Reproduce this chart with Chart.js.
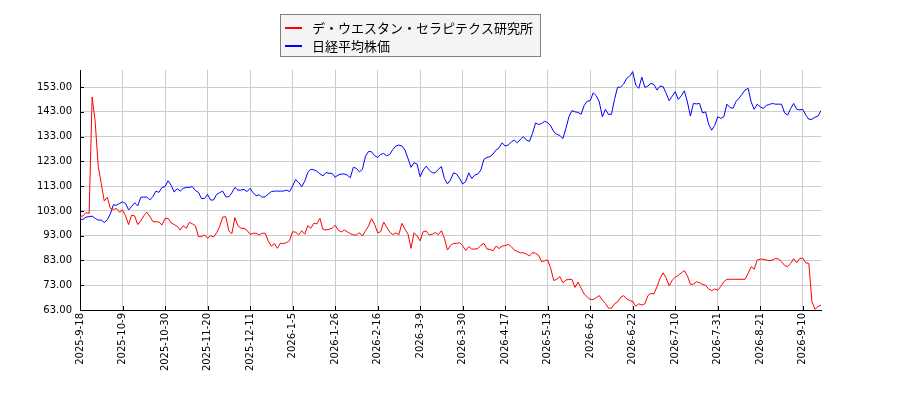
<!DOCTYPE html>
<html>
<head>
<meta charset="utf-8">
<script src="https://cdn.jsdelivr.net/npm/chart.js@4/dist/chart.umd.min.js"></script>
<style>
    html, body { margin: 0; padding: 0; background: #ffffff; }
    #wrap { width: 900px; height: 400px; position: relative; }
</style>
</head>
<body>
<div id="wrap"><canvas id="compareChart"></canvas></div>
<script>

// Both series are rebased to 100 on the first trading day.
var seriesNames = ['デ・ウエスタン・セラピテクス研究所', '日経平均株価'];

var companyValues = [
    100.7, 101.0, 102.3, 102.0, 149.0, 139.0, 121.0, 114.0, 107.0, 108.5, 104.0, 103.6, 104.0, 102.5,
    103.4, 101.0, 97.5, 101.3, 101.0, 97.5, 99.0, 101.0, 102.5, 100.7, 98.7, 98.6, 98.5, 97.3,
    100.0, 100.0, 98.2, 97.5, 96.8, 95.3, 97.0, 96.0, 98.4, 97.8, 97.0, 92.6, 92.6, 93.3,
    92.0, 93.0, 92.5, 94.2, 96.8, 100.5, 100.7, 95.0, 93.8, 100.3, 97.0, 96.0, 96.0, 95.2,
    93.5, 94.0, 94.0, 93.3, 94.0, 94.0, 90.8, 88.8, 89.8, 87.9, 90.0, 89.8, 90.2, 91.0,
    94.6, 94.4, 93.3, 95.0, 93.6, 97.0, 96.0, 98.0, 97.8, 100.0, 95.5, 95.3, 95.6, 96.0,
    97.2, 95.3, 94.5, 95.3, 94.6, 93.8, 93.3, 93.3, 94.2, 92.9, 95.0, 96.9, 99.9, 97.6,
    94.2, 94.6, 98.5, 96.4, 94.5, 93.4, 94.1, 93.4, 98.0, 95.6, 93.7, 87.9, 94.2, 92.9,
    90.9, 94.6, 94.9, 93.3, 93.6, 94.3, 93.4, 95.0, 91.9, 87.2, 89.1, 89.9, 89.9, 90.2,
    89.0, 87.0, 88.6, 87.6, 87.6, 87.8, 89.1, 89.9, 87.6, 87.5, 86.9, 88.8, 87.8, 88.8,
    89.0, 89.5, 88.6, 87.2, 86.6, 86.1, 86.1, 85.6, 84.8, 86.2, 85.9, 85.1, 82.5, 82.9,
    83.2, 79.8, 74.9, 75.4, 76.5, 74.0, 75.1, 75.4, 75.3, 72.1, 74.3, 71.8, 69.5, 68.3,
    67.3, 67.2, 68.0, 68.8, 67.0, 65.7, 63.8, 63.7, 65.5, 66.2, 68.1, 68.8, 67.5, 66.8,
    66.5, 64.5, 65.5, 65.0, 65.5, 68.8, 69.7, 69.5, 72.4, 75.8, 78.0, 76.0, 72.8, 75.0,
    76.2, 77.0, 78.0, 78.9, 76.8, 73.4, 73.4, 74.4, 74.0, 73.3, 73.0, 71.5, 70.8, 71.5,
    71.0, 72.5, 74.4, 75.4, 75.4, 75.4, 75.4, 75.4, 75.4, 75.4, 77.8, 80.5, 79.5, 83.2,
    83.5, 83.5, 83.2, 82.9, 83.2, 83.8, 83.6, 82.5, 81.0, 80.5, 81.8, 83.7, 82.1, 83.8,
    83.9, 82.0, 81.8, 66.5, 63.3, 64.4, 65.0
];

var nikkeiValues = [
    99.6, 99.6, 100.5, 100.7, 100.9, 100.0, 99.3, 99.3, 98.3, 99.5, 101.8, 105.5, 105.3, 106.0,
    106.7, 106.0, 103.4, 104.8, 106.3, 105.0, 108.5, 108.6, 108.6, 107.4, 108.8, 111.0, 110.5, 112.5,
    112.8, 115.2, 113.4, 110.6, 112.0, 111.0, 112.1, 112.5, 112.5, 112.8, 111.2, 110.5, 108.0, 108.0,
    109.7, 107.4, 107.4, 109.7, 110.4, 111.0, 108.7, 108.7, 110.3, 112.5, 111.4, 111.4, 111.7, 110.8,
    112.1, 110.3, 109.2, 109.5, 108.5, 108.8, 109.8, 110.8, 111.0, 111.0, 111.0, 111.0, 111.4, 110.8,
    113.0, 115.7, 114.5, 112.8, 115.0, 118.5, 119.8, 119.6, 119.0, 118.0, 117.1, 118.5, 118.2, 118.2,
    116.6, 117.5, 117.9, 117.9, 117.5, 116.4, 120.6, 120.2, 118.8, 119.8, 125.1, 127.0, 126.9, 125.3,
    124.6, 125.8, 126.2, 125.2, 125.8, 127.8, 129.2, 129.6, 129.2, 127.6, 124.2, 120.6, 122.5, 121.9,
    116.8, 119.5, 121.1, 119.5, 118.4, 118.4, 119.8, 120.9, 116.1, 113.9, 115.5, 118.4, 117.9, 116.1,
    113.9, 114.8, 118.4, 116.1, 117.5, 117.9, 119.5, 123.8, 124.6, 124.9, 126.0, 127.6, 128.5, 130.5,
    129.2, 129.6, 130.8, 131.6, 130.5, 131.9, 133.0, 131.6, 131.1, 134.3, 138.5, 137.9, 138.3, 139.2,
    138.6, 137.3, 135.0, 133.9, 133.5, 132.2, 136.3, 141.0, 143.5, 143.0, 142.8, 142.0, 145.5, 147.3,
    147.5, 150.7, 149.5, 147.0, 141.0, 144.0, 142.0, 142.0, 148.0, 152.9, 153.0, 154.2, 156.5, 157.4,
    159.2, 153.8, 152.5, 157.0, 152.9, 153.4, 154.5, 154.0, 151.8, 153.4, 153.2, 150.5, 147.5, 149.3,
    151.1, 148.0, 149.5, 151.5, 147.0, 141.3, 146.4, 146.2, 146.4, 142.6, 143.0, 138.0, 135.6, 137.5,
    141.0, 140.4, 141.0, 146.1, 144.8, 144.4, 147.1, 148.5, 150.1, 151.8, 152.5, 147.0, 144.0, 146.1,
    145.0, 144.4, 145.6, 146.0, 146.4, 146.1, 146.1, 146.1, 142.6, 141.7, 144.3, 146.4, 144.0, 143.8,
    144.0, 141.7, 140.0, 140.0, 140.8, 141.3, 143.5
];

// one tick label every 14 trading days
var tickEvery = 14;
var xTickLabels = [
    '2025-9-18', '2025-10-9', '2025-10-30', '2025-11-20', '2025-12-11', '2026-1-5',
    '2026-1-26', '2026-2-16', '2026-3-9', '2026-3-30', '2026-4-17', '2026-5-13',
    '2026-6-2', '2026-6-22', '2026-7-10', '2026-7-31', '2026-8-21', '2026-9-10'
];

var yTickValues = [63, 73, 83, 93, 103, 113, 123, 133, 143, 153];
var yMin = 63;
var yMax = 159.9;

var dayIndex = companyValues.map(function (v, i) { return i; });

Chart.defaults.font.family = "'DejaVu Sans', sans-serif";
Chart.defaults.font.size = 10;
Chart.defaults.color = '#000000';

/**
 * Matplotlib-like legend box above the plot, drawn from the datasets.
 */
var boxLegend = {
    id: 'boxLegend',
    afterDraw: function (chart) {
        var ctx = chart.ctx;
        var sets = chart.data.datasets;
        ctx.save();
        ctx.fillStyle = '#f4f4f4';
        ctx.fillRect(280.5, 14.5, 260, 42);
        ctx.strokeStyle = '#808080';
        ctx.lineWidth = 1;
        ctx.strokeRect(280.5, 14.5, 260, 42);
        ctx.font = "13px 'Noto Sans CJK JP', sans-serif";
        ctx.textBaseline = 'middle';
        sets.forEach(function (ds, k) {
            var yy = 28 + k * 18;
            ctx.strokeStyle = ds.borderColor;
            ctx.lineWidth = 2;
            ctx.beginPath();
            ctx.moveTo(285, yy);
            ctx.lineTo(302, yy);
            ctx.stroke();
            ctx.fillStyle = '#000000';
            ctx.fillText(ds.label, 312, yy);
        });
        ctx.restore();
    }
};

// short tick marks pointing into the plot
var innerTicks = {
    id: 'innerTicks',
    afterDatasetsDraw: function (chart) {
        var ctx = chart.ctx;
        var xs = chart.scales.x;
        var ys = chart.scales.y;
        var area = chart.chartArea;
        ctx.save();
        ctx.strokeStyle = '#000000';
        ctx.lineWidth = 1;
        ctx.beginPath();
        xTickLabels.forEach(function (l, k) {
            var px = Math.round(xs.getPixelForValue(k * tickEvery)) + 0.5;
            ctx.moveTo(px, area.bottom);
            ctx.lineTo(px, area.bottom - 4);
        });
        yTickValues.forEach(function (v) {
            var py = Math.round(ys.getPixelForValue(v)) + 0.5;
            ctx.moveTo(area.left, py);
            ctx.lineTo(area.left + 4, py);
        });
        ctx.stroke();
        ctx.restore();
    }
};

var config = {
    type: 'line',
    data: {
        labels: dayIndex,
        datasets: [
            {
                label: seriesNames[0],
                data: companyValues,
                borderColor: '#ff0000',
                backgroundColor: '#ff0000',
                borderWidth: 1,
                pointRadius: 0,
                tension: 0
            },
            {
                label: seriesNames[1],
                data: nikkeiValues,
                borderColor: '#0000ff',
                backgroundColor: '#0000ff',
                borderWidth: 1,
                pointRadius: 0,
                tension: 0
            }
        ]
    },
    options: {
        responsive: true,
        maintainAspectRatio: false,
        animation: false,
        events: [],
        layout: {
            padding: { top: 70, right: 79, left: 0, bottom: 0 }
        },
        plugins: {
            legend: { display: false },
            tooltip: { enabled: false },
            title: { display: false }
        },
        scales: {
            x: {
                type: 'category',
                offset: false,
                grid: { color: '#cccccc', lineWidth: 1, drawTicks: false },
                border: { color: '#000000', width: 1 },
                afterBuildTicks: function (scale) {
                    scale.ticks = xTickLabels.map(function (l, k) {
                        return { value: k * tickEvery };
                    });
                },
                afterFit: function (scale) {
                    scale.height = 90;
                },
                ticks: {
                    autoSkip: false,
                    minRotation: 90,
                    maxRotation: 90,
                    padding: 3,
                    callback: function (value, index) {
                        return xTickLabels[index];
                    }
                }
            },
            y: {
                min: yMin,
                max: yMax,
                grid: { color: '#cccccc', lineWidth: 1, drawTicks: false },
                border: { color: '#000000', width: 1 },
                afterBuildTicks: function (scale) {
                    scale.ticks = yTickValues.map(function (v) {
                        return { value: v };
                    });
                },
                afterFit: function (scale) {
                    scale.width = 80;
                },
                ticks: {
                    padding: 8,
                    callback: function (value) {
                        return value.toFixed(2);
                    }
                }
            }
        }
    },
    plugins: [boxLegend, innerTicks]
};

var ctx = document.getElementById('compareChart').getContext('2d');
var compareChart = new Chart(ctx, config);

</script>
</body>
</html>
